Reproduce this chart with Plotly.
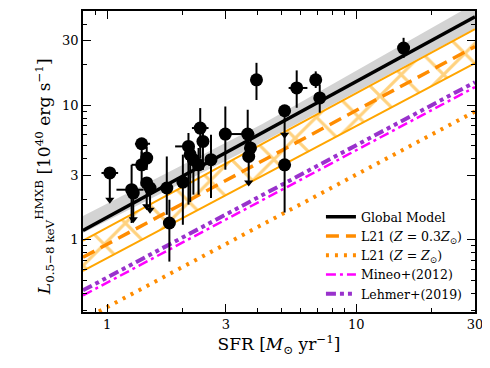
import numpy as np
import plotly.graph_objects as go

sfr = [1.025, 1.254, 1.273, 1.376, 1.442, 1.376, 1.442, 1.487, 1.736, 1.778,
       2.014, 2.121, 2.155, 2.22, 2.328, 2.365, 2.425, 2.612, 2.983, 3.668,
       3.762, 3.702, 3.978, 5.16, 5.16, 5.77, 6.88, 7.14, 15.5]
lx = [3.13, 2.35, 2.22, 5.16, 4.04, 3.60, 2.64, 2.42, 2.42, 1.33,
      2.68, 4.93, 4.28, 3.93, 3.60, 6.75, 5.37, 3.93, 6.09, 6.09,
      4.80, 4.15, 15.4, 9.07, 3.60, 13.4, 15.4, 11.3, 26.5]
lx_lo = [1.98, 1.33, 1.42, 3.60, 3.30, 2.50, 1.77, 1.67, 1.53, 0.687,
         1.29, 1.82, 1.90, 2.16, 2.16, 4.00, 3.30, 2.04, 3.31, 3.93,
         3.80, 2.66, 10.9, 6.02, 1.59, 9.55, 13.4, 8.77, 22.4]
lx_hi = [3.13, 3.60, 2.22, 5.60, 4.90, 4.50, 2.64, 2.42, 4.15, 1.98,
         4.28, 6.20, 5.40, 5.00, 4.80, 9.50, 6.50, 6.02, 9.76, 9.23,
         5.60, 4.15, 20.6, 9.07, 6.00, 18.1, 17.8, 14.2, 31.6]
sfr_lo = [0.949, 1.09, 1.273, 1.293, 1.442, 1.254, 1.442, 1.487, 1.736, 1.778,
          2.014, 1.875, 2.155, 2.22, 2.328, 2.19, 2.425, 2.612, 2.983, 2.983,
          3.762, 3.702, 3.978, 5.16, 5.16, 5.355, 6.88, 7.14, 15.5]
sfr_hi = [1.107, 1.40, 1.273, 1.487, 1.442, 1.376, 1.442, 1.487, 1.736, 1.778,
          2.014, 2.22, 2.155, 2.22, 2.328, 2.554, 2.425, 2.612, 2.983, 3.9,
          3.762, 3.702, 3.978, 5.16, 5.16, 6.37, 6.88, 7.14, 15.5]
upper_lim = [1, 0, 1, 0, 0, 0, 1, 1, 0, 0,
             0, 0, 0, 0, 0, 0, 0, 0, 0, 0,
             0, 1, 0, 1, 0, 0, 0, 0, 0]

# model relations, straight in log-log: values at the two ends of the SFR range
sfr_ends = [0.8, 30]
global_model = [1.17, 45.3]
l21_low_z = [0.74, 27.2]
l21_low_z_up = [0.985, 36.6]
l21_low_z_dn = [0.585, 20.5]
l21_solar = [0.253, 8.96]
mineo12 = [0.385, 13.6]
lehmer19 = [0.42, 14.8]
# uncertainty band of the global model
band_sfr = [0.8, 4.2, 30]
band_up = [1.50, 7.22, 57.0]
band_dn = [1.12, 5.30, 37.3]

serif = "DejaVu Serif"
orange = "#FFA500"
dorange = "#FF8C00"

fig = go.Figure()

# grey band
fig.add_trace(go.Scatter(x=band_sfr, y=band_dn, mode="lines", line=dict(width=0),
                         showlegend=False, hoverinfo="skip"))
fig.add_trace(go.Scatter(x=band_sfr, y=band_up, mode="lines", line=dict(width=0),
                         fill="tonexty", fillcolor="#D3D3D3",
                         showlegend=False, hoverinfo="skip"))

# hatched L21 region
fig.add_trace(go.Scatter(x=sfr_ends, y=l21_low_z_dn, mode="lines",
                         line=dict(color=orange, width=2), showlegend=False))
fig.add_trace(go.Scatter(x=sfr_ends, y=l21_low_z_up, mode="lines",
                         line=dict(color=orange, width=2), showlegend=False,
                         fill="tonexty", fillcolor="rgba(0,0,0,0)",
                         fillpattern=dict(shape="x", fgcolor=orange, bgcolor="rgba(0,0,0,0)",
                                          size=30, solidity=0.2)))

# model lines, legend order set with legendrank
models = [
    ("Global Model", global_model, dict(color="black", width=3.5), 1),
    ("L21 (<i>Z</i> = 0.3<i>Z</i><sub>⊙</sub>)", l21_low_z, dict(color=dorange, width=3.5, dash="13px,7px"), 2),
    ("L21 (<i>Z</i> = <i>Z</i><sub>⊙</sub>)", l21_solar, dict(color=dorange, width=4, dash="3px,6px"), 3),
    ("Mineo+(2012)", mineo12, dict(color="#FF00FF", width=2.5, dash="10px,4px,3px,4px"), 4),
    ("Lehmer+(2019)", lehmer19, dict(color="#9932CC", width=4, dash="10px,4px,4px,4px,4px,4px"), 5),
]
for name, yv, ln, rank in reversed(models):
    fig.add_trace(go.Scatter(x=sfr_ends, y=yv, mode="lines", name=name, line=ln,
                             legendrank=rank, legendgroup=str(rank)))

# data points with error bars
sfr_a = np.array(sfr)
lx_a = np.array(lx)
ul = np.array(upper_lim, dtype=bool)
fig.add_trace(go.Scatter(
    x=sfr, y=lx, mode="markers", showlegend=False,
    marker=dict(color="black", size=13),
    error_y=dict(type="data", symmetric=False, array=np.array(lx_hi) - lx_a,
                 arrayminus=lx_a - np.array(lx_lo), color="black", thickness=2, width=0),
    error_x=dict(type="data", symmetric=False, array=np.array(sfr_hi) - sfr_a,
                 arrayminus=sfr_a - np.array(sfr_lo), color="black", thickness=2, width=0)))
# arrow heads of the upper limits
fig.add_trace(go.Scatter(
    x=sfr_a[ul], y=np.array(lx_lo)[ul], mode="markers", showlegend=False,
    marker=dict(color="black", size=8, symbol="triangle-down")))

tick_font = dict(family=serif, size=13, color="black")
axis_common = dict(type="log", showgrid=False, zeroline=False, showline=True,
                   linecolor="black", linewidth=1.5, mirror="allticks", automargin=False,
                   ticks="inside", ticklen=8, tickwidth=1.3, tickcolor="black",
                   tickfont=tick_font, tickvals=[1, 3, 10, 30], ticktext=["1", "3", "10", "30"])

fig.update_xaxes(**axis_common, range=[np.log10(0.8), np.log10(30)],
                 minor=dict(ticks="inside", ticklen=4, tickwidth=1, tickcolor="black",
                            tickvals=[0.8, 0.9, 2, 4, 5, 6, 7, 8, 9, 20]),
                 title=dict(text="SFR [<i>M</i><sub>⊙</sub> yr<sup>−1</sup>]",
                            font=dict(family=serif, size=17, color="black"), standoff=6))
fig.update_yaxes(**axis_common, range=[np.log10(0.29), np.log10(50)],
                 minor=dict(ticks="inside", ticklen=4, tickwidth=1, tickcolor="black",
                            tickvals=[0.3, 0.4, 0.5, 0.6, 0.7, 0.8, 0.9, 2, 4, 5, 6, 7, 8, 9, 20, 40]))

# y title as a rotated annotation so it sits where the reference has it
fig.add_annotation(text="<i>L</i><sub>0.5−8 keV</sub><sup>HMXB</sup> [10<sup>40</sup> erg s<sup>−1</sup>]",
                   xref="paper", yref="paper", x=-0.098, y=0.45, xanchor="center", yanchor="middle",
                   textangle=-90, showarrow=False, font=dict(family=serif, size=17, color="black"))

# the page body adds an 8px offset, so the figure is 8px smaller and shifted
fig.update_layout(
    width=482, height=360,
    margin=dict(l=75, r=15, t=3, b=56),
    plot_bgcolor="white", paper_bgcolor="white",
    legend=dict(x=0.607, y=0.365, xanchor="left", yanchor="top", traceorder="normal",
                bgcolor="rgba(255,255,255,0)", font=dict(family=serif, size=12.5, color="black"),
                tracegroupgap=4, itemwidth=30),
)

fig.write_html("out.html")
